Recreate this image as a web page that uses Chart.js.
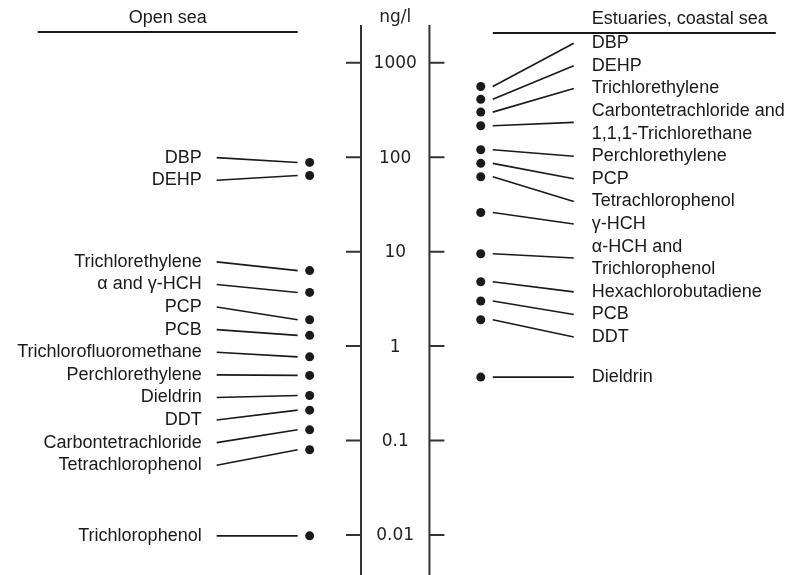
<!DOCTYPE html>
<html>
<head>
<meta charset="utf-8">
<script src="https://cdn.jsdelivr.net/npm/chart.js@4/dist/chart.umd.min.js"></script>
<style>
  html, body { margin:0; padding:0; background:#fff; }
  #wrap { width:793px; height:575px; position:relative; }
</style>
</head>
<body>
<div id="wrap"><canvas id="c" width="793" height="575"></canvas></div>
<script>
// Konzentrationen (ng/l), log-Achse in der Mitte, Beschriftung mit Führungslinien
var TICKS = [1000, 100, 10, 1, 0.1, 0.01];
var TICK_LABELS = ["1000", "100", "10", "1", "0.1", "0.01"];
var UNIT = "ng/l";

var OPEN_TITLE = "Open sea";
var OPEN_NAMES = ["DBP", "DEHP", "Trichlorethylene", "\u03b1 and \u03b3-HCH", "PCP", "PCB",
  "Trichlorofluoromethane", "Perchlorethylene", "Dieldrin", "DDT", "Carbontetrachloride",
  "Tetrachlorophenol", "Trichlorophenol"];
var OPEN_VALUES = [88, 64, 6.3, 3.7, 1.9, 1.3, 0.77, 0.49, 0.30, 0.21, 0.13, 0.08, 0.0098];

var COAST_TITLE = "Estuaries, coastal sea";
var COAST_NAMES = ["DBP", "DEHP", "Trichlorethylene", "Carbontetrachloride and\n1,1,1-Trichlorethane",
  "Perchlorethylene", "PCP", "Tetrachlorophenol", "\u03b3-HCH", "\u03b1-HCH and\nTrichlorophenol",
  "Hexachlorobutadiene", "PCB", "DDT", "Dieldrin"];
var COAST_VALUES = [560, 410, 300, 215, 120, 86, 62, 26, 9.5, 4.8, 3.0, 1.9, 0.47];

var INK = "#1a1a1a";
var FONT = "18px 'Liberation Sans', Arial, sans-serif";
var AXIS_FONT = "17px 'DejaVu Sans', sans-serif";
var LH = 22.6; // Zeilenabstand der Beschriftungen

// Beschriftungen auseinanderschieben (Gruppen überlappender Labels zentrieren)
function layoutLabels(ys, lines){
  var order = ys.map(function(_, i){ return i; }).sort(function(a, b){ return ys[a] - ys[b]; });
  var groups = order.map(function(i){ return { idx:[i], h:lines[i]*LH, c:ys[i] }; });
  var merged = true;
  while (merged){
    merged = false;
    for (var g = 0; g < groups.length - 1; g++){
      var a = groups[g], b = groups[g+1];
      if (a.c + a.h/2 > b.c - b.h/2){
        var idx = a.idx.concat(b.idx), sw = 0, s = 0;
        idx.forEach(function(i){ sw += lines[i]; s += ys[i]*lines[i]; });
        groups.splice(g, 2, { idx:idx, h:a.h + b.h, c:s/sw });
        merged = true; break;
      }
    }
  }
  var out = [];
  groups.forEach(function(gr){
    var top = gr.c - gr.h/2;
    gr.idx.forEach(function(i){ out[i] = top + lines[i]*LH/2; top += lines[i]*LH; });
  });
  return out;
}

function drawLabels(ctx, ch, meta, names, side){
  var pts = meta.data;
  var ys = pts.map(function(p){ return p.y; });
  var lines = names.map(function(n){ return n.split("\n").length; });
  var ly = layoutLabels(ys, lines);
  ctx.save();
  ctx.strokeStyle = INK; ctx.lineWidth = 1.6; ctx.fillStyle = INK;
  ctx.font = FONT; ctx.textBaseline = "middle";
  ctx.textAlign = side < 0 ? "right" : "left";
  pts.forEach(function(p, i){
    var x0 = p.x + side*12, x1 = p.x + side*93;
    ctx.beginPath(); ctx.moveTo(x0, p.y); ctx.lineTo(x1, ly[i]); ctx.stroke();
    var parts = names[i].split("\n");
    var tx = p.x + side*(side < 0 ? 108 : 111);
    parts.forEach(function(t, k){
      ctx.fillText(t, tx, ly[i] - (parts.length-1)*LH/2 + k*LH);
    });
  });
  ctx.restore();
}

var decor = {
  id:"decor",
  afterDatasetsDraw:function(ch){
    var ctx = ch.ctx, xs = ch.scales.x, ys = ch.scales.y;
    var xl = xs.getPixelForValue(-0.4), xr = xs.getPixelForValue(0.4), xc = xs.getPixelForValue(0);
    ctx.save();
    // Mittelachse
    ctx.strokeStyle = "#333"; ctx.lineWidth = 2;
    ctx.beginPath(); ctx.moveTo(xl, 25); ctx.lineTo(xl, 575); ctx.moveTo(xr, 25); ctx.lineTo(xr, 575); ctx.stroke();
    ctx.fillStyle = "#222"; ctx.font = AXIS_FONT; ctx.textAlign = "center"; ctx.textBaseline = "middle";
    TICKS.forEach(function(v, i){
      var y = ys.getPixelForValue(v);
      ctx.beginPath(); ctx.moveTo(xl - 15, y); ctx.lineTo(xl, y); ctx.moveTo(xr, y); ctx.lineTo(xr + 15, y); ctx.stroke();
      ctx.fillText(TICK_LABELS[i], xc, y + 1);
    });
    ctx.fillText(UNIT, xc, 18);

    // Überschriften
    var lx = xs.getPixelForValue(-1), rx = xs.getPixelForValue(1);
    ctx.font = FONT; ctx.fillStyle = INK; ctx.strokeStyle = INK; ctx.lineWidth = 2;
    ctx.fillText(OPEN_TITLE, lx - 142, 18);
    ctx.beginPath(); ctx.moveTo(lx - 272, 32); ctx.lineTo(lx - 12, 32); ctx.stroke();
    ctx.textAlign = "right";
    ctx.fillText(COAST_TITLE, rx + 287, 19);
    ctx.beginPath(); ctx.moveTo(rx + 12, 33); ctx.lineTo(rx + 295, 33); ctx.stroke();
    ctx.restore();

    drawLabels(ctx, ch, ch.getDatasetMeta(0), OPEN_NAMES, -1);
    drawLabels(ctx, ch, ch.getDatasetMeta(1), COAST_NAMES, 1);
  }
};

new Chart(document.getElementById("c"), {
  type:"scatter",
  data:{
    datasets:[
      { label:OPEN_TITLE, data:OPEN_VALUES.map(function(v){ return {x:-1, y:v}; }),
        pointRadius:4.5, pointBackgroundColor:INK, pointBorderWidth:0 },
      { label:COAST_TITLE, data:COAST_VALUES.map(function(v){ return {x:1, y:v}; }),
        pointRadius:4.5, pointBackgroundColor:INK, pointBorderWidth:0 }
    ]
  },
  options:{
    responsive:false, animation:false,
    layout:{ padding:0, autoPadding:false },
    plugins:{ legend:{display:false}, tooltip:{enabled:false} },
    scales:{
      x:{ type:"linear", display:false, min:-4.62, max:4.65 },
      y:{ type:"logarithmic", display:false, min:Math.pow(10,-2.423), max:Math.pow(10,3.664) }
    }
  },
  plugins:[decor]
});
</script>
</body>
</html>
